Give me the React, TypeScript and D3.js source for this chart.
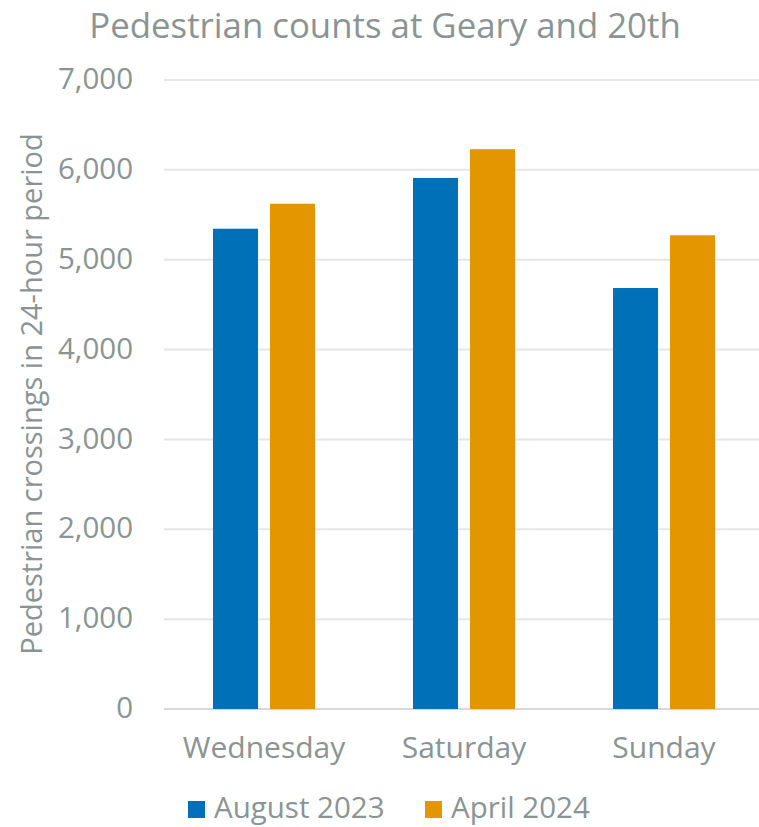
import React from "react";
import * as d3 from "d3";

const categories = ["Wednesday", "Saturday", "Sunday"];
const seriesNames = ["August 2023", "April 2024"];
const august2023 = [5345, 5910, 4685];
const april2024 = [5623, 6230, 5272];
const yTicks = [0, 1000, 2000, 3000, 4000, 5000, 6000, 7000];
const title = "Pedestrian counts at Geary and 20th";
const yTitle = "Pedestrian crossings in 24-hour period";

const W = 759;
const H = 827;
const colors = ["#0070B8", "#E39600"];
const textColor = "#8A9494";
const font = "'Open Sans', sans-serif";

export default function App() {
  const x = d3.scaleBand<string>().domain(categories).range([164, 764]).paddingInner(0).paddingOuter(0);
  const x1 = d3.scaleBand<string>().domain(seriesNames).range([49, 151]).paddingInner(0.21);
  const y = d3.scaleLinear().domain([0, 7000]).range([709, 80]);
  const series = [august2023, april2024];
  const fmt = d3.format(",");

  return (
    <svg width={W} height={H} style={{ position: "absolute", left: 0, top: 0, fontFamily: font }}>
      <rect width={W} height={H} fill="#fff" />
      <text x={385} y={37.5} textAnchor="middle" fontSize={34.8} fill={textColor}>{title}</text>
      {yTicks.map((t) => (
        <g key={t}>
          <line x1={164} x2={764} y1={y(t)} y2={y(t)} stroke={t === 0 ? "#D9D9D9" : "#E6E6E6"} strokeWidth={2} />
          <text x={133} y={y(t)} dy="0.31em" textAnchor="end" fontSize={29.5} fill={textColor}>{fmt(t)}</text>
        </g>
      ))}
      {categories.map((c, i) => (
        <g key={c} transform={`translate(${x(c)},0)`}>
          {series.map((s, j) => (
            <rect
              key={j}
              x={x1(seriesNames[j])}
              y={y(s[i])}
              width={x1.bandwidth()}
              height={y(0) - y(s[i])}
              fill={colors[j]}
            />
          ))}
          <text x={x.bandwidth() / 2} y={758} textAnchor="middle" fontSize={30} fill={textColor}>{c}</text>
        </g>
      ))}
      <text
        transform={`translate(42,394) rotate(-90)`}
        textAnchor="middle"
        fontSize={29}
        fill={textColor}
      >{yTitle}</text>
      {seriesNames.map((n, j) => {
        const lx = [188, 425][j];
        return (
          <g key={n}>
            <rect x={lx} y={801} width={17} height={17} fill={colors[j]} />
            <text x={lx + 26} y={818} fontSize={29.5} fill={textColor}>{n}</text>
          </g>
        );
      })}
    </svg>
  );
}
